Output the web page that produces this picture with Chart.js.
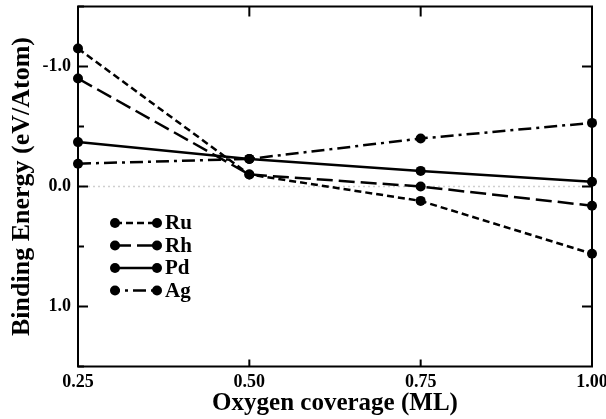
<!DOCTYPE html>
<html>
<head>
<meta charset="utf-8">
<script src="https://cdn.jsdelivr.net/npm/chart.js"></script>
<style>
  html, body { margin: 0; padding: 0; background: #fff; }
  #wrap { width: 606px; height: 419px; }
</style>
</head>
<body>
<div id="wrap"><canvas id="energy"></canvas></div>
<script>
// oxygen coverage (ML) and binding energies (eV/atom) per metal
const coverage = [0.25, 0.50, 0.75, 1.00];
const ruEnergy = [-1.15, -0.10, 0.12, 0.56];
const rhEnergy = [-0.90, -0.10, 0.00, 0.16];
const pdEnergy = [-0.37, -0.23, -0.13, -0.04];
const agEnergy = [-0.19, -0.23, -0.40, -0.53];
const metals = ['Ru', 'Rh', 'Pd', 'Ag'];
const dashes = [[7, 4], [16, 6], [], [13, 5, 3, 5]];

const serif = "'Liberation Serif', 'DejaVu Serif', serif";

function pts(ys) {
  return coverage.map((x, i) => ({ x: x, y: ys[i] }));
}

const series = [ruEnergy, rhEnergy, pdEnergy, agEnergy];
const datasets = series.map((ys, i) => ({
  label: metals[i],
  data: pts(ys),
  borderColor: '#000',
  backgroundColor: '#000',
  borderWidth: 2.5,
  borderDash: dashes[i],
  pointRadius: 5,
  pointHoverRadius: 5,
  pointBackgroundColor: '#000',
  pointBorderWidth: 0,
  tension: 0,
  clip: false
}));

// frame, inward ticks and the dotted zero line
const framePlugin = {
  id: 'frame',
  beforeDatasetsDraw(chart) {
    const { ctx, chartArea: a, scales } = chart;
    const y0 = scales.y.getPixelForValue(0);
    ctx.save();
    ctx.strokeStyle = '#cfcfcf';
    ctx.lineWidth = 1.5;
    ctx.setLineDash([2, 3]);
    ctx.beginPath();
    ctx.moveTo(a.left, y0);
    ctx.lineTo(a.right, y0);
    ctx.stroke();
    ctx.setLineDash([]);

    ctx.strokeStyle = '#000';
    ctx.lineWidth = 2;
    ctx.strokeRect(a.left, a.top, a.right - a.left, a.bottom - a.top);

    ctx.beginPath();
    [-1.5, -1, -0.5, 0, 0.5, 1, 1.5].forEach(v => {
      const py = scales.y.getPixelForValue(v);
      const major = Number.isInteger(v);
      ctx.moveTo(a.left, py);
      ctx.lineTo(a.left + (major ? 10 : 6), py);
      if (major) {
        ctx.moveTo(a.right, py);
        ctx.lineTo(a.right - 10, py);
      }
    });
    coverage.forEach(v => {
      const px = scales.x.getPixelForValue(v);
      ctx.moveTo(px, a.bottom);
      ctx.lineTo(px, a.bottom - 7);
      ctx.moveTo(px, a.top);
      ctx.lineTo(px, a.top + 10);
    });
    ctx.stroke();
    ctx.restore();
  }
};

// legend with a dot at each end of the line sample
const keyPlugin = {
  id: 'key',
  afterDatasetsDraw(chart) {
    const ctx = chart.ctx;
    const x1 = 115, x2 = 157, top = 223, step = 22.5;
    ctx.save();
    chart.data.datasets.forEach((ds, i) => {
      const y = top + i * step;
      ctx.strokeStyle = '#000';
      ctx.lineWidth = 2.5;
      ctx.setLineDash(ds.borderDash);
      ctx.lineDashOffset = i === 3 ? 8 : 0;
      ctx.beginPath();
      ctx.moveTo(x1, y);
      ctx.lineTo(x2, y);
      ctx.stroke();
      ctx.setLineDash([]);
      ctx.fillStyle = '#000';
      [x1, x2].forEach(px => {
        ctx.beginPath();
        ctx.arc(px, y, 5, 0, Math.PI * 2);
        ctx.fill();
      });
      ctx.font = 'bold 21px ' + serif;
      ctx.textAlign = 'left';
      ctx.textBaseline = 'middle';
      ctx.fillText(ds.label, x2 + 8, y + 1);
    });
    ctx.restore();
  }
};

new Chart(document.getElementById('energy'), {
  type: 'line',
  data: { datasets: datasets },
  options: {
    responsive: true,
    maintainAspectRatio: false,
    animation: false,
    layout: { autoPadding: false, padding: { left: 0, right: 14, top: 6.5, bottom: 0 } },
    plugins: {
      legend: { display: false },
      tooltip: { enabled: false }
    },
    scales: {
      x: {
        type: 'linear',
        min: 0.25,
        max: 1.0,
        grid: { display: false, drawTicks: false },
        border: { display: false },
        afterFit(axis) {
          axis.height = 52.5;
          axis.paddingLeft = 0;
          axis.paddingRight = 0;
        },
        ticks: {
          stepSize: 0.25,
          color: '#000',
          padding: 5,
          maxRotation: 0,
          font: { family: serif, size: 18, weight: 'bold' },
          callback: v => v.toFixed(2)
        },
        title: {
          display: true,
          text: 'Oxygen coverage (ML)',
          color: '#000',
          padding: { top: 0, bottom: 0 },
          font: { family: serif, size: 25, weight: 'bold' }
        }
      },
      y: {
        type: 'linear',
        reverse: true,
        min: -1.5,
        max: 1.5,
        grid: { display: false, drawTicks: false },
        border: { display: false },
        afterFit(axis) {
          axis.width = 78;
          axis.paddingTop = 0;
          axis.paddingBottom = 0;
        },
        ticks: {
          stepSize: 0.5,
          color: '#000',
          padding: 7,
          font: { family: serif, size: 18, weight: 'bold' },
          callback: v => Number.isInteger(v) ? v.toFixed(1) : ''
        },
        title: {
          display: true,
          text: 'Binding Energy (eV/Atom)',
          color: '#000',
          padding: { top: 7, bottom: 0 },
          font: { family: serif, size: 26, weight: 'bold' }
        }
      }
    }
  },
  plugins: [framePlugin, keyPlugin]
});
</script>
</body>
</html>
